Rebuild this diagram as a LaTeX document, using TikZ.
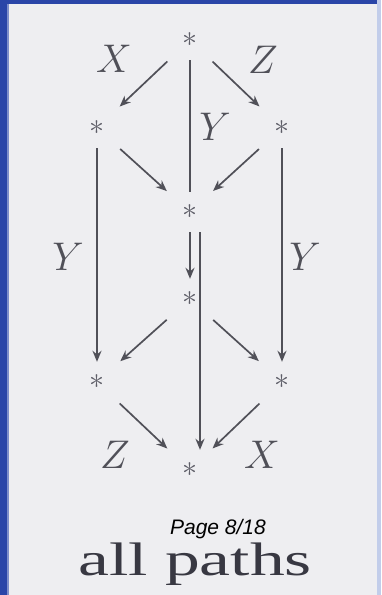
\RequirePackage{fix-cm}
\documentclass[tikz,border=0pt]{standalone}
\usepackage{fontspec}
\newfontfamily\pagefont{Liberation Sans}
\newfontfamily\titlefont{Liberation Serif}
\usetikzlibrary{arrows.meta}
\definecolor{bg}{HTML}{EEEEF1}
\definecolor{ink}{HTML}{505058}
\definecolor{starc}{HTML}{5E5E68}
\definecolor{border}{HTML}{2A45A8}
\definecolor{rborder}{HTML}{C2CDEA}
\definecolor{titlec}{HTML}{383842}
\tikzset{
 pt/.style={circle, minimum size=40pt, inner sep=0pt, text=starc, font=\fontsize{30}{34}\selectfont},
 lab/.style={text=ink, font=\fontsize{40}{48}\selectfont, inner sep=0pt},
 arr/.style={draw=ink, line width=1.7pt, -{Stealth[length=11pt,width=9pt]}},
 diag/.style={arr, shorten <=11pt, shorten >=11pt},
 plain/.style={draw=ink, line width=1.7pt},
}
\begin{document}
\begin{tikzpicture}[x=1pt,y=-1pt]
\fill[bg] (0,0) rectangle (381,595);
\useasboundingbox (0,0) rectangle (381,595);
\fill[border] (0,0) rectangle (7,595);
\fill[border!60!white] (7,0) rectangle (9,595);
\fill[border] (0,0) rectangle (381,4);
\fill[rborder] (377,0) rectangle (381,595);

% points
\node[pt] (T) at (190,40) {$*$};
\node[pt] (L) at (97,128) {$*$};
\node[pt] (R) at (282,128) {$*$};
\node[pt] (C1) at (190,212) {$*$};
\node[pt] (C2) at (190,299) {$*$};
\node[pt] (LL) at (97,382) {$*$};
\node[pt] (LR) at (282,382) {$*$};
\node[pt] (B) at (190,470) {$*$};

% connectors
\draw[diag] (T) -- (L);
\draw[diag] (T) -- (R);
\draw[plain] (T) -- (C1);
\draw[diag] (L) -- (C1);
\draw[diag] (R) -- (C1);
\draw[arr] (L) -- (LL);
\draw[arr] (R) -- (LR);
\draw[arr] (C1) -- (C2);
\draw[arr] ([xshift=10pt]C1.south) -- ([xshift=10pt]B.north);
\draw[diag] (C2) -- (LL);
\draw[diag] (C2) -- (LR);
\draw[diag] (LL) -- (B);
\draw[diag] (LR) -- (B);

% labels
\node[lab] (lX1) at (114,59) {$X$};
\node[lab] (lZ1) at (263,60) {$Z$};
\node[lab] (lY1) at (215,127) {$Y$};
\node[lab] (lY2) at (68,257) {$Y$};
\node[lab] (lY3) at (305,257) {$Y$};
\node[lab] (lZ2) at (115,455) {$Z$};
\node[lab] (lX2) at (262,455) {$X$};

% texts
\node[anchor=base, inner sep=0pt, font=\pagefont\itshape\fontsize{21}{25}\selectfont] (page) at (218,534) {Page 8/18};
\node[anchor=base, inner sep=0pt, text=titlec, font=\titlefont\fontsize{47}{56}\selectfont] (title) at (195,575) {\scalebox{1.48}[1]{all paths}};
\end{tikzpicture}
\end{document}
